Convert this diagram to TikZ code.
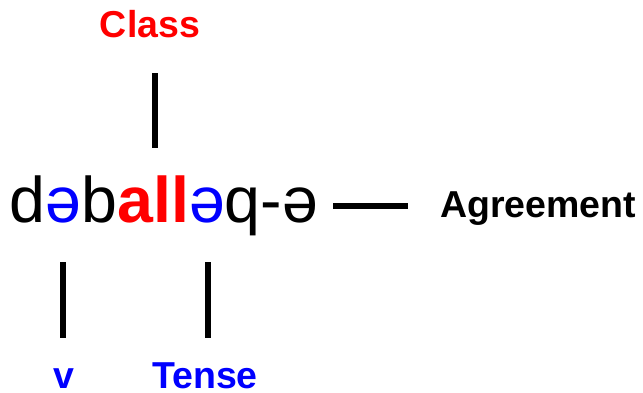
\documentclass[tikz,border=0pt]{standalone}
\usepackage{fontspec}
\setmainfont{Liberation Sans}
\definecolor{root}{RGB}{255,0,0}
\definecolor{affix}{RGB}{0,0,255}
\definecolor{ink}{RGB}{0,0,0}
\usetikzlibrary{positioning}
\tikzset{
  word/.style={inner sep=0pt, anchor=base west, text=ink,
               font=\fontsize{64.5}{70}\selectfont},
  tag/.style={inner sep=0pt, anchor=base, font=\fontsize{37.5}{40}\selectfont\bfseries},
  bar/.style={ink, line width=6pt},
}

\begin{document}
\begin{tikzpicture}[x=1pt,y=-1pt]
    \useasboundingbox (0,0) rectangle (643,392);
    % --- the word ---
    \node[word] (verb) at (9.5,222)
      {d\textcolor{affix}{ə}b\textcolor{root}{\bfseries all}\textcolor{affix}{ə}q-ə};
    % --- labels ---
    \node[tag,root] (cls) at (150,37) {Class};
    \node[tag,affix] (vv) at (64,388.5) {v};
    \node[tag,affix] (tns) at (205,388.5) {Tense};
    \node[tag,ink,anchor=base west] (agr) at (440,217) {Agreement};
    % --- bars ---
    \coordinate (cls-a) at (155,73);  \coordinate (cls-b) at (155,148);
    \coordinate (vv-a) at (63,262);   \coordinate (vv-b) at (63,338);
    \coordinate (tns-a) at (208,262); \coordinate (tns-b) at (208,338);
    \coordinate (agr-a) at (333,206); \coordinate (agr-b) at (408,206);
    \draw[bar] (cls-a) -- (cls-b);
    \draw[bar] (vv-a) -- (vv-b);
    \draw[bar] (tns-a) -- (tns-b);
    \draw[bar] (agr-a) -- (agr-b);
\end{tikzpicture}
\end{document}
